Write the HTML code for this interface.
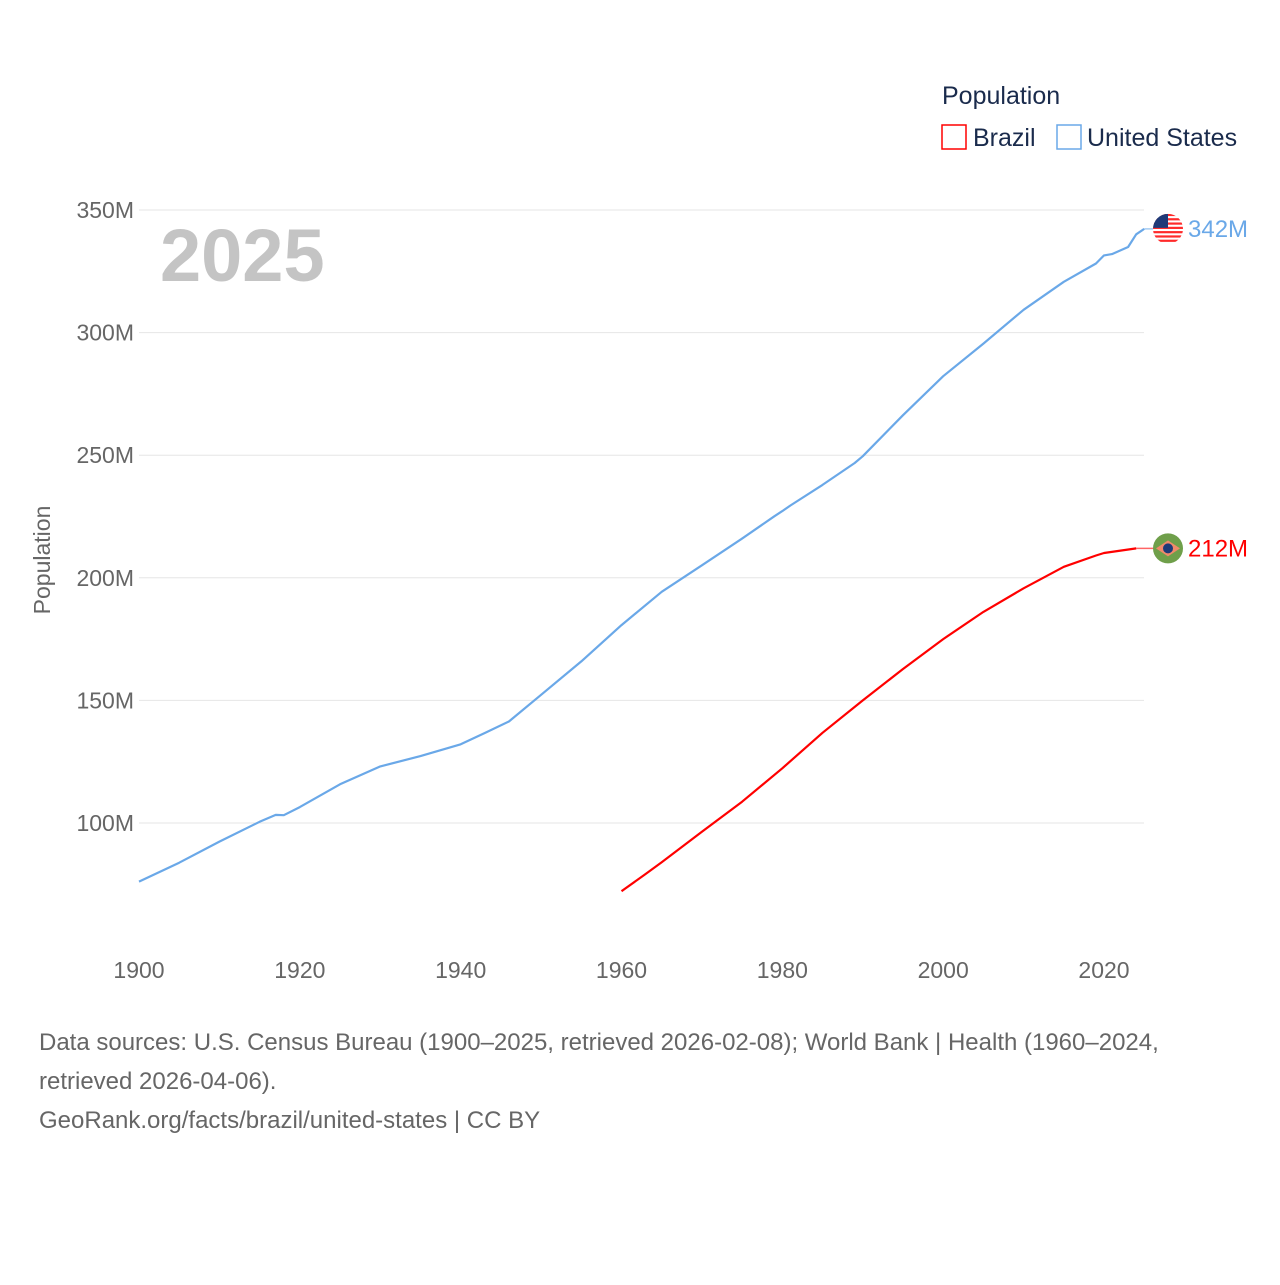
<!DOCTYPE html>
<html><head><meta charset="utf-8">
<style>
html,body{margin:0;padding:0;background:#fff;}
body{width:1280px;height:1280px;position:relative;font-family:"Liberation Sans",sans-serif;overflow:hidden;}
svg text{font-family:"Liberation Sans",sans-serif;}
</style></head>
<body>
<svg id="chart" width="1280" height="1280">
  <g id="grid"></g>
  <g id="yticks"></g>
  <g id="xticks"></g>
  <text x="160" y="281" font-size="74" font-weight="bold" fill="#c4c4c4">2025</text>
  <text transform="translate(50,560) rotate(-90)" text-anchor="middle" font-size="23" fill="#666">Population</text>
  <g id="series"></g>
  <g>
    <text x="942" y="104" font-size="25" fill="#1a2b4c">Population</text>
    <g>
      <rect x="942" y="125" width="24" height="24" fill="none" stroke="#ff0000" stroke-width="1.5"/>
      <text x="973" y="146" font-size="25" fill="#1a2b4c">Brazil</text>
    </g>
    <g>
      <rect x="1057" y="125" width="24" height="24" fill="none" stroke="#6aa8e8" stroke-width="1.5"/>
      <text x="1087" y="146" font-size="25" fill="#1a2b4c">United States</text>
    </g>
  </g>
  <g font-size="24" fill="#666">
    <text x="39" y="1050">Data sources: U.S. Census Bureau (1900–2025, retrieved 2026-02-08); World Bank | Health (1960–2024,</text>
    <text x="39" y="1089">retrieved 2026-04-06).</text>
    <text x="39" y="1128">GeoRank.org/facts/brazil/united-states | CC BY</text>
  </g>
</svg>
<script>
const usYears=[1900,1905,1910,1915,1917,1918,1920,1925,1930,1935,1940,1943,1946,1950,1955,1960,1965,1970,1975,1979,1980,1981,1985,1989,1990,1995,2000,2005,2010,2015,2019,2020,2021,2023,2024,2025];
const usValues=[76.1,83.8,92.4,100.5,103.3,103.2,106.5,115.8,123.1,127.3,132.1,136.7,141.4,152.3,165.9,180.7,194.3,205.1,216.0,225.1,227.2,229.5,237.9,246.8,249.6,266.3,282.2,295.5,309.3,320.7,328.2,331.5,332.0,334.9,340.1,342.3];
const brYears=[1960,1963,1965,1970,1975,1980,1985,1990,1995,2000,2005,2010,2015,2019,2020,2024];
const brValues=[72.2,79.2,84.0,96.4,108.7,122.3,136.8,150.0,162.8,175.0,186.1,195.7,204.5,209.1,210.1,212.0];
const yTicks=[100,150,200,250,300,350];
const xTicks=[1900,1920,1940,1960,1980,2000,2020];

const NS="http://www.w3.org/2000/svg";
const X=y=>139+(y-1900)*(965/120);
const Y=v=>210+(350-v)*(613/250);
function el(tag,attrs,parent){const e=document.createElementNS(NS,tag);for(const k in attrs)e.setAttribute(k,attrs[k]);parent.appendChild(e);return e;}
const grid=document.getElementById('grid'),yt=document.getElementById('yticks'),xt=document.getElementById('xticks'),ser=document.getElementById('series');
yTicks.forEach(v=>{
  const l=el('line',{x1:139,x2:1144,y1:Y(v),y2:Y(v),stroke:'#e6e6e6','stroke-width':1},grid);
  
  
  const t=el('text',{x:134,y:Y(v)+8,'text-anchor':'end','font-size':23,fill:'#666'},yt);
  t.textContent=v+'M';
  
  
});
xTicks.forEach(y=>{
  const t=el('text',{x:X(y),y:978,'text-anchor':'middle','font-size':23,fill:'#666'},xt);
  t.textContent=y;
  
  
});
function line(years,vals,color,name,labelText){
  const pts=years.map((y,i)=>X(y).toFixed(1)+','+Y(vals[i]).toFixed(1)).join(' ');
  const p=el('polyline',{points:pts,fill:'none',stroke:color,'stroke-width':2.2,'stroke-linejoin':'round'},ser);
  
  
  const lx=X(years[years.length-1]),ly=Y(vals[vals.length-1]);
  const c=el('line',{x1:lx,x2:1156,y1:ly,y2:ly,stroke:color,'stroke-width':1.5,opacity:0.6},ser);
  
  
  const lab=el('text',{x:1188,y:ly+8,'font-size':24,fill:color},ser);
  lab.textContent=labelText;
  
  
  return ly;
}
const usY=line(usYears,usValues,'#6aa8e8','united-states','342M');
const brY=line(brYears,brValues,'#ff0000','brazil','212M');
const cx=1168;
const uf=el('g',{},ser);


const clip=el('clipPath',{id:'cu'},uf);
el('circle',{cx:cx,cy:usY,r:15},clip);
const fg=el('g',{'clip-path':'url(#cu)'},uf);
el('rect',{x:cx-15,y:usY-15,width:30,height:30,fill:'#fff'},fg);
for(let i=0;i<7;i++)el('rect',{x:cx-15,y:usY-15+i*4.3,width:30,height:2.2,fill:'#ff2a2a'},fg);
el('rect',{x:cx-15,y:usY-15,width:15,height:14,fill:'#1f3a78'},fg);
const bf=el('g',{},ser);


el('circle',{cx:cx,cy:brY,r:15,fill:'#6f9f4a'},bf);
el('polygon',{points:`${cx-12},${brY} ${cx},${brY-8} ${cx+12},${brY} ${cx},${brY+8}`,fill:'#f08a6a'},bf);
el('circle',{cx:cx,cy:brY,r:5,fill:'#1f3a78'},bf);
</script>
</body></html>
